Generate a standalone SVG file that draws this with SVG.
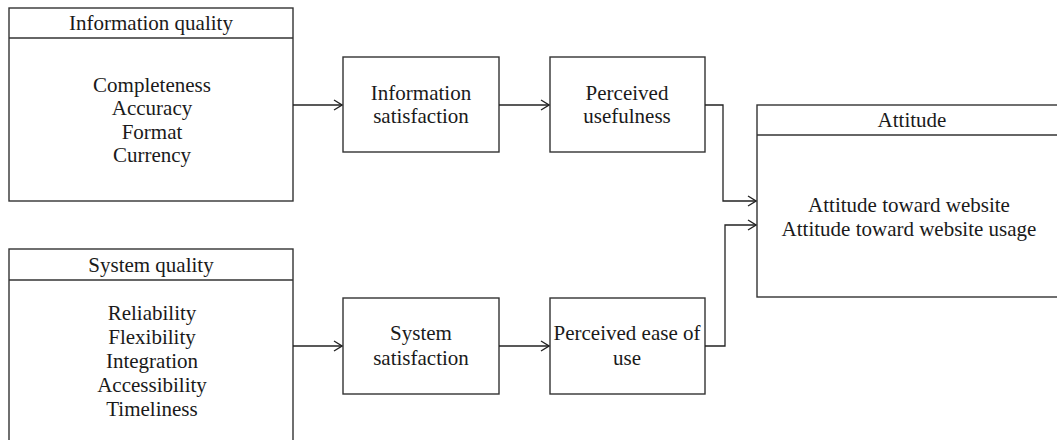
<svg xmlns="http://www.w3.org/2000/svg" width="1057" height="440" viewBox="0 0 1057 440">
  <defs>
    <marker id="arr" viewBox="0 0 10 12" refX="9" refY="6" markerWidth="10" markerHeight="12" markerUnits="userSpaceOnUse" orient="auto">
      <path d="M1,1 L9,6 L1,11" fill="none" stroke="#222" stroke-width="1.3"/>
    </marker>
  </defs>
  <style>
    .box { fill: #fff; stroke: #333; stroke-width: 1.4; }
    .div { stroke: #333; stroke-width: 1.4; }
    .t { font-family: "Liberation Serif", "Times New Roman", serif; font-size: 21px; fill: #1a1a1a; text-anchor: middle; }
    .conn { fill: none; stroke: #222; stroke-width: 1.3; }
  </style>
  <rect width="1057" height="440" fill="#fff"/>

  <g id="information-quality">
    <rect class="box" x="9" y="8" width="284" height="193"/>
    <line class="div" x1="9" y1="38" x2="293" y2="38"/>
    <text class="t" x="151" y="30">Information quality</text>
    <text class="t" x="152" y="92">Completeness</text>
    <text class="t" x="152" y="115">Accuracy</text>
    <text class="t" x="152" y="139">Format</text>
    <text class="t" x="152" y="162">Currency</text>
  </g>

  <g id="system-quality">
    <rect class="box" x="9" y="249" width="284" height="200"/>
    <line class="div" x1="9" y1="280" x2="293" y2="280"/>
    <text class="t" x="151" y="272">System quality</text>
    <text class="t" x="152" y="320">Reliability</text>
    <text class="t" x="152" y="344">Flexibility</text>
    <text class="t" x="152" y="368">Integration</text>
    <text class="t" x="152" y="392">Accessibility</text>
    <text class="t" x="152" y="416">Timeliness</text>
  </g>

  <g id="information-satisfaction">
    <rect class="box" x="343" y="57" width="156" height="95"/>
    <text class="t" x="421" y="100">Information</text>
    <text class="t" x="421" y="123">satisfaction</text>
  </g>

  <g id="perceived-usefulness">
    <rect class="box" x="550" y="57" width="155" height="95"/>
    <text class="t" x="627" y="100">Perceived</text>
    <text class="t" x="627" y="123">usefulness</text>
  </g>

  <g id="system-satisfaction">
    <rect class="box" x="343" y="298" width="156" height="96"/>
    <text class="t" x="421" y="340">System</text>
    <text class="t" x="421" y="365">satisfaction</text>
  </g>

  <g id="perceived-ease-of-use">
    <rect class="box" x="550" y="298" width="155" height="96"/>
    <text class="t" x="627" y="340">Perceived ease of</text>
    <text class="t" x="627" y="365">use</text>
  </g>

  <g id="attitude">
    <rect class="box" x="757" y="105" width="306" height="192"/>
    <line class="div" x1="757" y1="135" x2="1063" y2="135"/>
    <text class="t" x="912" y="127">Attitude</text>
    <text class="t" x="909" y="212">Attitude toward website</text>
    <text class="t" x="909" y="236">Attitude toward website usage</text>
  </g>

  <g id="connectors">
    <line class="conn" x1="293" y1="105" x2="342" y2="105" marker-end="url(#arr)"/>
    <line class="conn" x1="499" y1="105" x2="549" y2="105" marker-end="url(#arr)"/>
    <line class="conn" x1="293" y1="346" x2="342" y2="346" marker-end="url(#arr)"/>
    <line class="conn" x1="499" y1="346" x2="549" y2="346" marker-end="url(#arr)"/>
    <polyline class="conn" points="705,105 723,105 723,201 756,201" marker-end="url(#arr)"/>
    <polyline class="conn" points="705,346 725,346 725,225 756,225" marker-end="url(#arr)"/>
  </g>
</svg>
